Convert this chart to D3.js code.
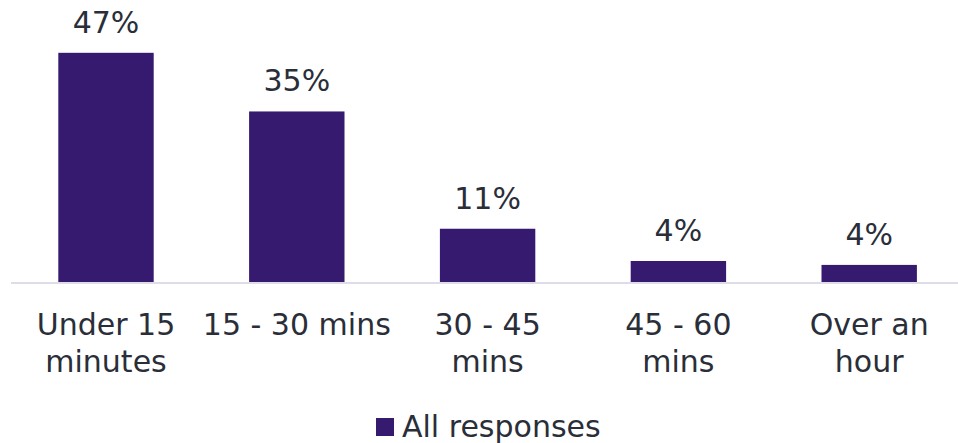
<!DOCTYPE html>
<html>
<head>
<meta charset="utf-8">
<script src="https://cdn.jsdelivr.net/npm/d3@7"></script>
<style>
  html, body { margin: 0; padding: 0; background: #ffffff; }
  svg { display: block; }
  text { font-family: "DejaVu Sans", sans-serif; fill: #2a2e38; }
</style>
</head>
<body>
<svg id="chart" width="958" height="443"></svg>
<script>
// Time spent, share of all responses (%)
const categories = [["Under 15", "minutes"], ["15 - 30 mins"], ["30 - 45", "mins"], ["45 - 60", "mins"], ["Over an", "hour"]];
const values = [47, 35, 11, 4.4, 3.6];
const seriesName = "All responses";

const W = 958, H = 443;
const barColor = "#351a70";
const svg = d3.select("#chart");

const x = d3.scaleBand()
  .domain(d3.range(categories.length))
  .range([10.6, 964.6])
  .paddingInner(0.5)
  .paddingOuter(0.25);

const y = d3.scaleLinear()
  .domain([0, 50])
  .range([282.5, 282.5 - 50 * 4.887]);

// bars
svg.append("g")
  .selectAll("rect")
  .data(values)
  .join("rect")
  .attr("x", (d, i) => x(i))
  .attr("width", x.bandwidth())
  .attr("y", d => y(d))
  .attr("height", d => y(0) - y(d))
  .attr("fill", barColor);

// baseline axis
const axis = d3.axisBottom(x).tickSize(0).tickFormat("");
const gx = svg.append("g").attr("transform", `translate(0,${y(0) + 0.5})`).call(axis);
gx.select(".domain").attr("stroke", "#dcdde7").attr("stroke-width", 2).attr("d", `M11,0H${W}`);

// value labels
svg.append("g")
  .selectAll("text")
  .data(values)
  .join("text")
  .attr("x", (d, i) => x(i) + x.bandwidth() / 2)
  .attr("y", d => y(d) - 20)
  .attr("text-anchor", "middle")
  .attr("font-size", 30)
  .text(d => Math.round(d) + "%");

// category labels
const cat = svg.append("g")
  .selectAll("text")
  .data(categories)
  .join("text")
  .attr("text-anchor", "middle")
  .attr("font-size", 30)
  .attr("x", (d, i) => x(i) + x.bandwidth() / 2)
  .attr("y", 335);
cat.selectAll("tspan")
  .data(d => d)
  .join("tspan")
  .attr("x", function () { return d3.select(this.parentNode).attr("x"); })
  .attr("dy", (d, i) => i === 0 ? 0 : 37)
  .text(d => d);

// legend
const lg = svg.append("g");
lg.append("rect").attr("x", 376).attr("y", 418).attr("width", 18).attr("height", 18).attr("fill", barColor);
lg.append("text").attr("x", 402).attr("y", 437).attr("font-size", 30).text(seriesName);
</script>
</body>
</html>
